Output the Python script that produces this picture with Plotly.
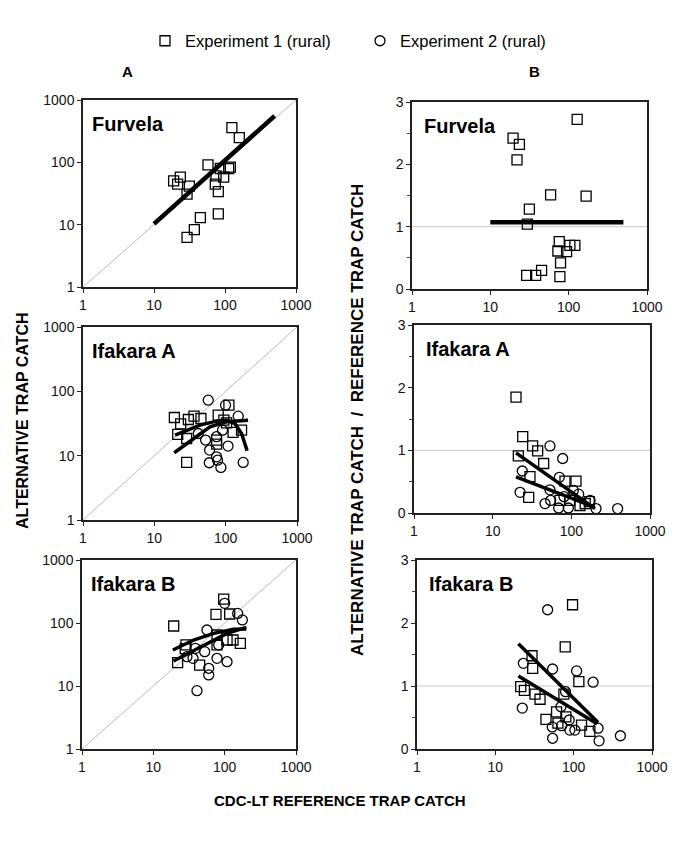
import plotly.graph_objects as go

# page body has an 8px default margin: the figure is drawn inside it
OFF = 8
W, H = 685 - 2 * OFF, 849 - 2 * OFF

# ---------------- data ----------------
log_ticks = [1, 10, 100, 1000]
ratio_ticks = [0, 1, 2, 3]
panel_titles = ["Furvela", "Furvela", "Ifakara A", "Ifakara A", "Ifakara B", "Ifakara B"]
series_names = ["Experiment 1 (rural)", "Experiment 2 (rural)"]

# Furvela - A (alternative vs reference)
fur_a_x1 = [125, 159, 57.6, 18.9, 23.5, 21.5, 31.5, 29.2, 74.7, 73, 80.5, 95.7, 112.7, 119, 86, 80.5, 45, 37, 29.2]
fur_a_y1 = [361, 250, 91, 50.5, 57.8, 44.7, 41.5, 30.9, 60.7, 44.7, 34, 57.8, 79.6, 83.6, 79.6, 14.9, 13, 8.3, 6.25]
fur_a_fit_x = [10, 500]
fur_a_fit_y = [10.3, 555]

# Furvela - B (ratio)
fur_b_x1 = [128.4, 19.5, 23.5, 21.9, 58.8, 167, 31.5, 29.7, 75.8, 72.9, 94, 103.6, 120, 78.8, 77.3, 45.1, 37.9, 29.1]
fur_b_y1 = [2.72, 2.42, 2.32, 2.07, 1.51, 1.49, 1.28, 1.04, 0.76, 0.61, 0.60, 0.70, 0.70, 0.42, 0.20, 0.30, 0.22, 0.22]
fur_b_fit_x = [10, 500]
fur_b_fit_y = [1.07, 1.07]

# Ifakara A - A
ifa_a_x1 = [19.1, 23.4, 21.3, 28.4, 30, 36, 45, 78.6, 111, 94.4, 103, 127, 167, 74.5, 28.4, 74.5]
ifa_a_y1 = [39.2, 31.3, 21.4, 18.5, 36.5, 41.1, 37.8, 42.6, 61, 35.6, 32.4, 23, 24.9, 15.1, 7.85, 17.5]
ifa_a_x2 = [57, 99.6, 150, 41.3, 52.3, 59.5, 108, 90.4, 58.9, 74.5, 77, 85.7, 176, 74.5]
ifa_a_y2 = [72.8, 61, 41.1, 22.1, 17.5, 12.2, 14.1, 24.9, 7.76, 9.6, 8.5, 6.57, 7.85, 19.7]
ifa_a_fit1_x = [19.5, 43.6, 74.5, 103, 134.5, 167, 200]
ifa_a_fit1_y = [20.9, 29.8, 34.4, 35.6, 31.6, 22.1, 11.9]
ifa_a_fit2_x = [19, 35.2, 60.2, 103, 206]
ifa_a_fit2_y = [11.1, 18.5, 28.1, 33.6, 35.6]

# Ifakara A - B (ratio)
ifa_b_x1 = [19.8, 24.1, 32.2, 37.3, 21.2, 44.5, 29.8, 28.7, 83, 114.6, 71.8, 169, 129, 150, 95]
ifa_b_y1 = [1.85, 1.22, 1.07, 0.99, 0.91, 0.79, 0.58, 0.25, 0.51, 0.51, 0.20, 0.18, 0.12, 0.15, 0.20]
ifa_b_x2 = [53.5, 77.6, 23.8, 70.4, 22.3, 53.5, 46.3, 54.6, 69, 91.6, 106, 124, 173, 206, 388, 80.7]
ifa_b_y2 = [1.07, 0.87, 0.67, 0.57, 0.33, 0.37, 0.15, 0.20, 0.08, 0.08, 0.36, 0.30, 0.20, 0.07, 0.07, 0.26]
ifa_b_fit1_x = [19.8, 200]
ifa_b_fit1_y = [0.96, 0.07]
ifa_b_fit2_x = [19.8, 190]
ifa_b_fit2_y = [0.575, 0.10]

# Ifakara B - A
ifb_a_x1 = [96.8, 75.6, 117.5, 19.3, 28.7, 21.9, 44.6, 78.1, 131, 166, 108, 78.1, 28]
ifb_a_y1 = [240, 137, 139, 89.6, 44.8, 23.5, 21.5, 44.8, 53.7, 47.6, 53.7, 64.5, 39]
ifb_a_x2 = [100, 152, 177, 56.5, 38.8, 36, 52.5, 59.7, 59.7, 78.1, 108, 40.9, 82.4, 29.6]
ifb_a_y2 = [205, 142, 112, 77.4, 39.6, 27.5, 35.1, 19.1, 15, 27.5, 24.3, 8.43, 44.8, 29.2]
ifb_a_fit1_x = [18.8, 36.7, 70, 133, 201]
ifb_a_fit1_y = [37.3, 53.7, 68.5, 79.3, 80.3]
ifb_a_fit2_x = [19.2, 56.5, 108, 201]
ifb_a_fit2_y = [24.9, 47.6, 68.5, 85.3]

# Ifakara B - B (ratio)
ifb_b_x1 = [96.8, 78, 29.4, 30, 21.1, 23.5, 32.1, 37.2, 75, 116.5, 44.3, 60.5, 79.6, 126, 161, 63]
ifb_b_y1 = [2.29, 1.62, 1.48, 1.28, 0.99, 0.93, 0.87, 0.79, 0.87, 1.07, 0.47, 0.59, 0.51, 0.38, 0.28, 0.41]
ifb_b_x2 = [46.5, 22.8, 53.8, 109, 177, 78.8, 22.1, 68.8, 53.3, 70.1, 53.8, 89.5, 103.6, 87.7, 205, 211, 395]
ifb_b_y2 = [2.21, 1.36, 1.27, 1.24, 1.06, 0.91, 0.65, 0.67, 0.35, 0.37, 0.17, 0.30, 0.30, 0.46, 0.33, 0.13, 0.21]
ifb_b_fit1_x = [19.7, 205]
ifb_b_fit1_y = [1.67, 0.42]
ifb_b_fit2_x = [19.7, 199]
ifb_b_fit2_y = [1.16, 0.40]

# ---------------- layout helpers ----------------
FONT = "Liberation Sans, Arial, sans-serif"


def px(x):
    return (x - OFF) / W


def py(y):
    return 1 - (y - OFF) / H


# panel boxes in page pixels: (left, right, top, bottom)
boxes = [
    (83, 296, 100, 287),
    (412, 647, 102, 289),
    (83, 297, 327, 520),
    (414, 650, 325, 513),
    (82, 296, 560, 749),
    (417, 652, 560, 749),
]

fig = go.Figure()

sq = dict(symbol="square-open", size=10, color="black", line=dict(width=1.3, color="black"))
ci = dict(symbol="circle-open", size=10, color="black", line=dict(width=1.3, color="black"))

panels = [
    dict(s1=(fur_a_x1, fur_a_y1), s2=None, fits=[(fur_a_fit_x, fur_a_fit_y, 4.5)], log=True),
    dict(s1=(fur_b_x1, fur_b_y1), s2=None, fits=[(fur_b_fit_x, fur_b_fit_y, 4.5)], log=False),
    dict(s1=(ifa_a_x1, ifa_a_y1), s2=(ifa_a_x2, ifa_a_y2),
         fits=[(ifa_a_fit1_x, ifa_a_fit1_y, 3.5), (ifa_a_fit2_x, ifa_a_fit2_y, 3.5)], log=True),
    dict(s1=(ifa_b_x1, ifa_b_y1), s2=(ifa_b_x2, ifa_b_y2),
         fits=[(ifa_b_fit1_x, ifa_b_fit1_y, 3.5), (ifa_b_fit2_x, ifa_b_fit2_y, 3.5)], log=False),
    dict(s1=(ifb_a_x1, ifb_a_y1), s2=(ifb_a_x2, ifb_a_y2),
         fits=[(ifb_a_fit1_x, ifb_a_fit1_y, 3.5), (ifb_a_fit2_x, ifb_a_fit2_y, 3.5)], log=True),
    dict(s1=(ifb_b_x1, ifb_b_y1), s2=(ifb_b_x2, ifb_b_y2),
         fits=[(ifb_b_fit1_x, ifb_b_fit1_y, 3.5), (ifb_b_fit2_x, ifb_b_fit2_y, 3.5)], log=False),
]

shapes = []
annotations = []
layout_axes = {}

for i, p in enumerate(panels):
    n = i + 1
    xa = "x" if n == 1 else f"x{n}"
    ya = "y" if n == 1 else f"y{n}"
    l, r, t, b = boxes[i]

    fig.add_trace(go.Scatter(x=p["s1"][0], y=p["s1"][1], mode="markers", marker=sq,
                             xaxis=xa, yaxis=ya, name=series_names[0],
                             showlegend=(n == 1), legendgroup="e1"))
    if p["s2"] is not None:
        fig.add_trace(go.Scatter(x=p["s2"][0], y=p["s2"][1], mode="markers", marker=ci,
                                 xaxis=xa, yaxis=ya, name=series_names[1],
                                 showlegend=(n == 3), legendgroup="e2"))
    for fx, fy, lw in p["fits"]:
        fig.add_trace(go.Scatter(x=fx, y=fy, mode="lines", line=dict(color="black", width=lw),
                                 xaxis=xa, yaxis=ya, showlegend=False, hoverinfo="skip"))

    xdom = [px(l), px(r)]
    ydom = [py(b), py(t)]
    tickfont = dict(family=FONT, size=14, color="#111")
    xkey = "xaxis" if n == 1 else f"xaxis{n}"
    ykey = "yaxis" if n == 1 else f"yaxis{n}"
    layout_axes[xkey] = dict(domain=xdom, anchor=ya, type="log", range=[0, 3],
                             tickvals=log_ticks, ticktext=[str(v) for v in log_ticks],
                             showgrid=False, zeroline=False, showline=True, mirror=True,
                             linecolor="#222", linewidth=1.5, ticks="outside", ticklen=4,
                             tickcolor="#222", tickfont=tickfont, automargin=False)
    if p["log"]:
        layout_axes[ykey] = dict(domain=ydom, anchor=xa, type="log", range=[0, 3],
                                 tickvals=log_ticks, ticktext=[str(v) for v in log_ticks],
                                 showgrid=False, zeroline=False, showline=True, mirror=True,
                                 linecolor="#222", linewidth=1.5, ticks="outside", ticklen=4,
                                 tickcolor="#222", tickfont=tickfont, automargin=False)
        shapes.append(dict(type="line", xref=f"{xa} domain", yref=f"{ya} domain",
                           x0=0, y0=0, x1=1, y1=1, line=dict(color="#bbbbbb", width=1), layer="below"))
    else:
        layout_axes[ykey] = dict(domain=ydom, anchor=xa, range=[0, 3],
                                 tickvals=ratio_ticks, ticktext=[str(v) for v in ratio_ticks],
                                 showgrid=False, zeroline=False, showline=True, mirror=True,
                                 linecolor="#222", linewidth=1.5, ticks="outside", ticklen=4,
                                 tickcolor="#222", tickfont=tickfont, automargin=False,
                                 minor=dict(dtick=0.5, ticks="outside", ticklen=3, tickcolor="#444"))
        shapes.append(dict(type="line", xref=f"{xa} domain", yref=ya,
                           x0=0, x1=1, y0=1, y1=1, line=dict(color="#c8c8c8", width=1), layer="below"))

    annotations.append(dict(text=f"<b>{panel_titles[i]}</b>", xref=f"{xa} domain", yref=f"{ya} domain",
                            x=(7 if n % 2 else 10) / (r - l), y=1 - 11 / (b - t),
                            xanchor="left", yanchor="top", showarrow=False,
                            font=dict(family=FONT, size=20, color="black")))

# column labels
annotations.append(dict(text="<b>A</b>", xref="paper", yref="paper", x=px(127), y=py(72),
                        xanchor="center", yanchor="middle", showarrow=False,
                        font=dict(family=FONT, size=15, color="black")))
annotations.append(dict(text="<b>B</b>", xref="paper", yref="paper", x=px(534), y=py(72),
                        xanchor="center", yanchor="middle", showarrow=False,
                        font=dict(family=FONT, size=15, color="black")))
# axis titles
annotations.append(dict(text="<b>ALTERNATIVE TRAP CATCH</b>", xref="paper", yref="paper",
                        x=px(22), y=py(421), textangle=-90, xanchor="center", yanchor="middle",
                        showarrow=False, font=dict(family=FONT, size=16, color="black")))
annotations.append(dict(text="<b>ALTERNATIVE TRAP CATCH  /  REFERENCE TRAP CATCH</b>", xref="paper",
                        yref="paper", x=px(357), y=py(420), textangle=-90, xanchor="center",
                        yanchor="middle", showarrow=False, font=dict(family=FONT, size=17, color="black")))
annotations.append(dict(text="<b>CDC-LT REFERENCE TRAP CATCH</b>", xref="paper", yref="paper",
                        x=px(340), y=py(800), xanchor="center", yanchor="middle",
                        showarrow=False, font=dict(family=FONT, size=15, color="black")))

fig.update_layout(
    width=W, height=H,
    margin=dict(l=0, r=0, t=0, b=0, autoexpand=False),
    paper_bgcolor="white", plot_bgcolor="white",
    shapes=shapes, annotations=annotations,
    showlegend=True,
    legend=dict(orientation="h", x=px(145), y=py(41), xanchor="left", yanchor="middle",
                font=dict(family=FONT, size=16.5, color="black"),
                entrywidth=170, entrywidthmode="pixels", itemclick=False, itemdoubleclick=False,
                bgcolor="rgba(0,0,0,0)"),
    **layout_axes,
)

fig.write_html("out.html")
